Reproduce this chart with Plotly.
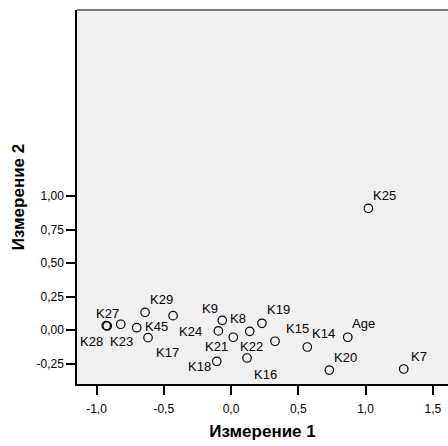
import plotly.graph_objects as go

# Object coordinates in the two-dimensional solution
names = ["K27", "K28", "K23", "K45", "K29", "K17", "K24", "K9", "K8", "K21",
         "K22", "K18", "K16", "K19", "K15", "K14", "Age", "K20", "K7", "K25"]
dim1 = [-0.928, -0.920, -0.820, -0.701, -0.639, -0.617, -0.431, -0.065, -0.094, 0.017,
        0.139, -0.106, 0.119, 0.230, 0.327, 0.567, 0.868, 0.731, 1.284, 1.021]
dim2 = [0.033, 0.030, 0.043, 0.017, 0.132, -0.057, 0.107, 0.072, -0.007, -0.054,
        -0.010, -0.234, -0.209, 0.050, -0.084, -0.127, -0.054, -0.299, -0.291, 0.908]

# Label placement (pixel offsets from each marker)
label_dx = [1, -16, 1, 20, 16, 19, 17, -12, 20, -17, 2, -17, 18, 17, 22, 16, 16, 16, 15, 16]
label_dy = [-12, 16, 17, -1, -13, 15, 16, -12, -12, 9, 15, 5, 16, -14, -13, -14, -14, -13, -12, -13]

x_ticks = [-1.0, -0.5, 0.0, 0.5, 1.0, 1.5]
x_tick_text = ["-1,0", "-0,5", "0,0", "0,5", "1,0", "1,5"]
y_ticks = [-0.25, 0.0, 0.25, 0.5, 0.75, 1.0]
y_tick_text = ["-0,25", "0,00", "0,25", "0,50", "0,75", "1,00"]

FONT = "Liberation Sans, Arial, sans-serif"

fig = go.Figure()
fig.add_trace(go.Scatter(
    x=dim1, y=dim2, mode="markers",
    marker=dict(symbol="circle-open", size=8.5, color="black", line=dict(width=1.2, color="black")),
    hoverinfo="text", text=names, showlegend=False,
))

for n, x, y, dx, dy in zip(names, dim1, dim2, label_dx, label_dy):
    fig.add_annotation(x=x, y=y, text=n, showarrow=False, xanchor="center", yanchor="middle",
                       xshift=dx, yshift=-dy, font=dict(family=FONT, size=13, color="black"))

# top border of the plot frame
fig.add_shape(type="line", xref="paper", yref="paper", x0=0, x1=1, y0=1, y1=1,
              line=dict(color="#7a7a7a", width=2))

fig.update_layout(
    width=448, height=446,
    margin=dict(l=77, r=0, t=10, b=62),
    paper_bgcolor="white", plot_bgcolor="#f0f0f0",
    font=dict(family=FONT, size=12, color="black"),
    xaxis=dict(range=[-1.145, 1.613], tickvals=x_ticks, ticktext=x_tick_text,
               showgrid=False, zeroline=False, showline=True, linecolor="black", linewidth=1.5,
               ticks="outside", ticklen=9, tickwidth=1.5, tickcolor="black",
               tickfont=dict(family=FONT, size=12), ticklabelstandoff=4,
               title=dict(text="<b>Измерение 1</b>", font=dict(family=FONT, size=17), standoff=10)),
    yaxis=dict(range=[-0.403, 2.388], tickvals=y_ticks, ticktext=y_tick_text,
               showgrid=False, zeroline=False, showline=True, linecolor="black", linewidth=1.5,
               ticks="outside", ticklen=9, tickwidth=1.5, tickcolor="black",
               tickfont=dict(family=FONT, size=12),
               title=dict(text="<b>Измерение 2</b>", font=dict(family=FONT, size=17), standoff=8)),
)

fig.write_html("out.html")
